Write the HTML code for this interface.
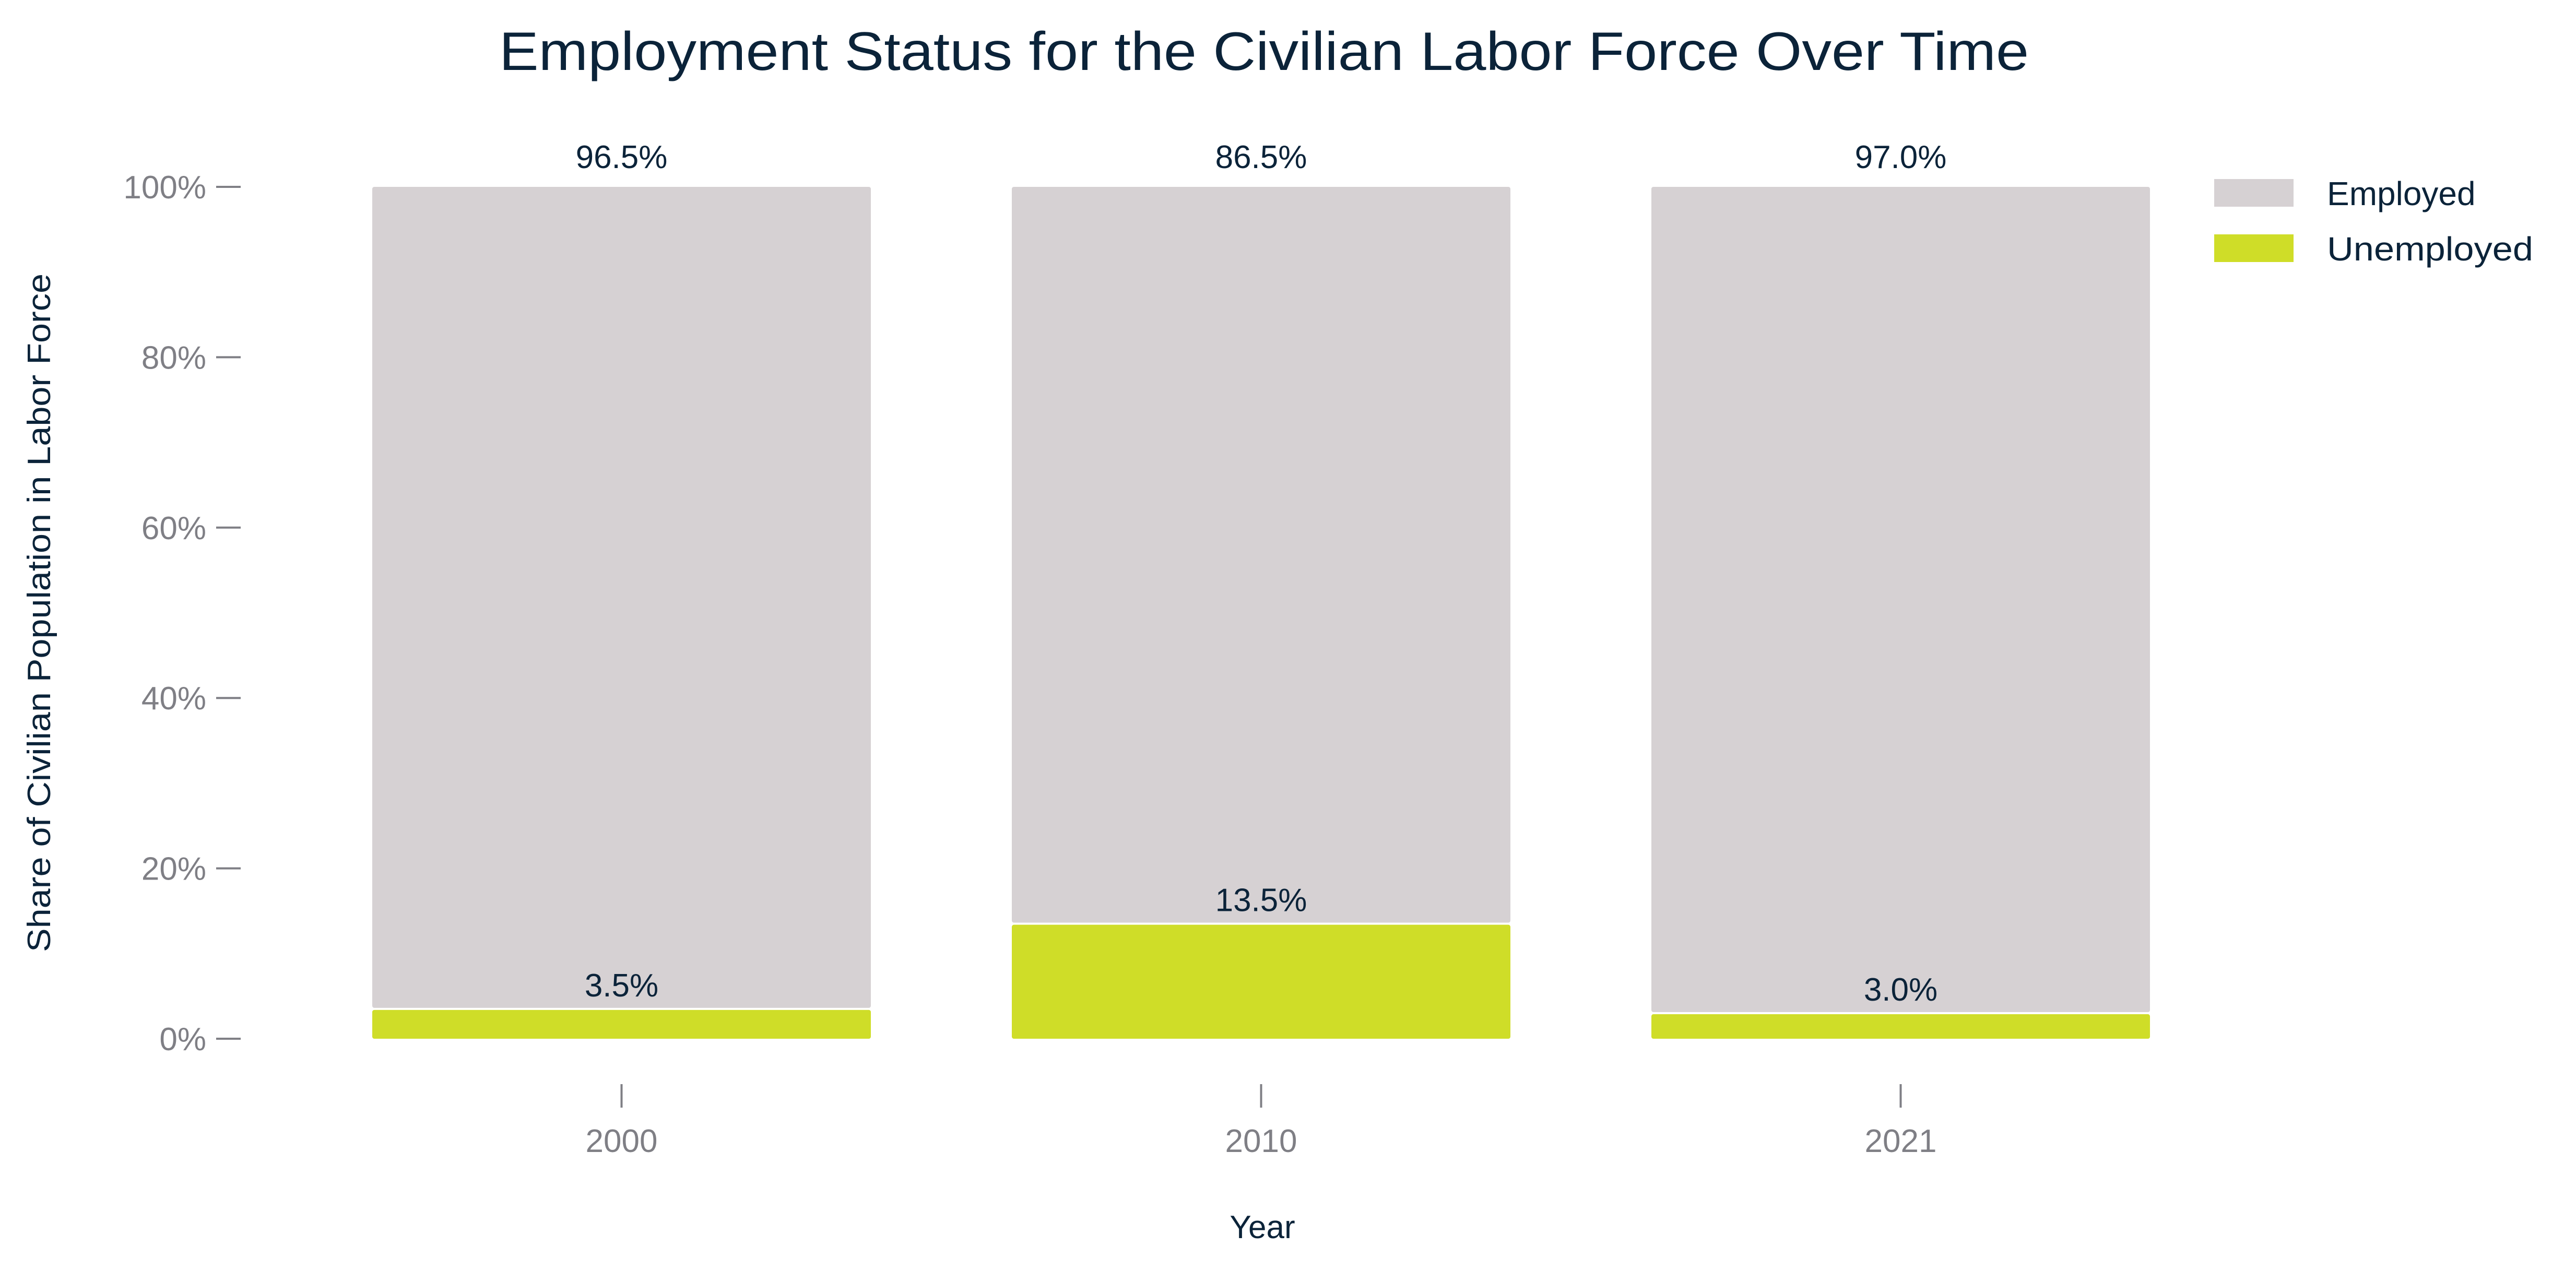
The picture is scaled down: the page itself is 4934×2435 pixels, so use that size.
<!DOCTYPE html>
<html><head><meta charset="utf-8"><style>
html,body{margin:0;padding:0;background:#fff;}
svg{display:block;font-family:"Liberation Sans",sans-serif;}
</style></head><body>
<svg id="chart" width="4934" height="2435" viewBox="0 0 4934 2435" xmlns="http://www.w3.org/2000/svg">
<text x="2421" y="134" text-anchor="middle" font-size="104" fill="#0b2339" textLength="2930" lengthAdjust="spacingAndGlyphs">Employment Status for the Civilian Labor Force Over Time</text>
<text transform="translate(96,1174) rotate(-90)" text-anchor="middle" font-size="62" fill="#0b2339" textLength="1300" lengthAdjust="spacingAndGlyphs">Share of Civilian Population in Labor Force</text>
<text x="2418" y="2372" text-anchor="middle" font-size="62" fill="#0b2339">Year</text>
<g id="yaxis"></g>
<g id="xaxis"></g>
<g id="bars"></g>
<g>
<rect x="4241" y="343" width="152" height="53" fill="#d6d1d3"/>
<text x="4457" y="393" font-size="64" fill="#0b2339">Employed</text>
<rect x="4241" y="449" width="152" height="53" fill="#cfdd28"/>
<text x="4457" y="499" font-size="64" fill="#0b2339" textLength="395" lengthAdjust="spacingAndGlyphs">Unemployed</text>
</g>
</svg>
<script>
const categories = ["2000","2010","2021"];
const unemployed = [3.5,13.5,3.0];
const employed = [96.5,86.5,97.0];
const yTicks = [0,20,40,60,80,100];
const NS="http://www.w3.org/2000/svg";
const y0=1990, y1=358;
function yScale(v){return y0-(y0-y1)*v/100;}
const bandStart=713, step=1225, barW=955;
function xLeft(i){return bandStart+i*step;}
function mk(tag,attrs,parent){const e=document.createElementNS(NS,tag);for(const k in attrs)e.setAttribute(k,attrs[k]);parent.appendChild(e);return e;}
const ya=document.getElementById('yaxis'), xa=document.getElementById('xaxis'), bars=document.getElementById('bars');
yTicks.forEach(t=>{
  const y=yScale(t);
  const l=mk('line',{x1:414,x2:461,y1:y,y2:y,stroke:'#7f7f85','stroke-width':4},ya);
  
  
  const tx=mk('text',{x:395,y:y+22,'text-anchor':'end','font-size':62,fill:'#7f7f85'},ya);
  tx.textContent=t+'%';
  
  
});
categories.forEach((c,i)=>{
  const cx=xLeft(i)+barW/2;
  const l=mk('line',{x1:cx,x2:cx,y1:2077,y2:2122,stroke:'#7f7f85','stroke-width':4},xa);
  
  
  const tx=mk('text',{x:cx,y:2207,'text-anchor':'middle','font-size':62,fill:'#7f7f85'},xa);
  tx.textContent=c;
  
  
  const uTop=yScale(unemployed[i]);
  const u=mk('rect',{x:xLeft(i),y:uTop+2,width:barW,height:y0-uTop-2,fill:'#cfdd28',rx:4},bars);
  
  
  const eTop=yScale(unemployed[i]+employed[i]);
  const e=mk('rect',{x:xLeft(i),y:eTop,width:barW,height:uTop-eTop-2,fill:'#d6d1d3',rx:4},bars);
  
  
  const lu=mk('text',{x:cx,y:uTop-24,'text-anchor':'middle','font-size':62,fill:'#0b2339'},bars);
  lu.textContent=unemployed[i].toFixed(1)+'%';
  
  
  const le=mk('text',{x:cx,y:eTop-36,'text-anchor':'middle','font-size':62,fill:'#0b2339'},bars);
  le.textContent=employed[i].toFixed(1)+'%';
  
  
});
</script>
</body></html>
